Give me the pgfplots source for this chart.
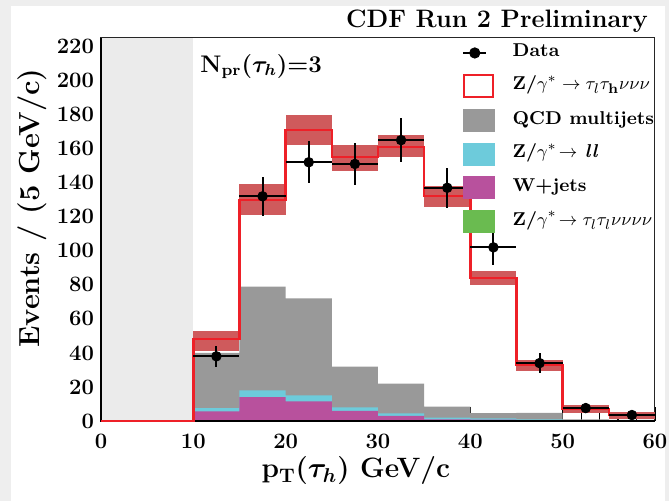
\documentclass[border=0pt]{standalone}
\usepackage{pgfplots}
\pgfplotsset{compat=1.18}
\usetikzlibrary{calc}
\usepackage{bm}
\definecolor{bggray}{HTML}{EEEEEE}
\definecolor{regiongray}{HTML}{EBEBEB}
\definecolor{qcd}{HTML}{999999}
\definecolor{zll}{HTML}{6DCBDB}
\definecolor{wjets}{HTML}{B8519D}
\definecolor{ztt}{HTML}{6ABB50}
\definecolor{band}{HTML}{CF5A5C}
\definecolor{zred}{HTML}{EE2028}
\begin{document}
\begin{tikzpicture}
\fill[bggray] (-50.5pt,-40pt) rectangle (284pt,210.5pt);
\fill[white] (-45pt,-40pt) rectangle (282pt,207.5pt);
\useasboundingbox (-50.5pt,-40pt) rectangle (284pt,210.5pt);
\begin{axis}[
  name=ax, at={(0,0)}, anchor=south west,
  scale only axis, width=277pt, height=191.5pt,
  clip=false,
  xmin=0, xmax=60, ymin=0, ymax=225,
  xtick={0,10,...,60}, ytick={0,20,...,220},
  minor x tick num=4, minor y tick num=3,
  tick pos=left, tick align=inside,
  major tick length=7pt, minor tick length=4pt,
  every tick/.append style={black, line width=0.6pt},
  axis line style={line width=0.5pt, black!85},
  /pgf/number format/assume math mode=true,
  xticklabel={\textbf{\pgfmathprintnumber[assume math mode=true]{\tick}}},
  yticklabel={\textbf{\pgfmathprintnumber[assume math mode=true]{\tick}}},
  ticklabel style={font=\fontsize{11}{13}\selectfont\bfseries},
  xticklabel style={yshift=-3pt},
  legend cell align=left,
  legend style={at={(rel axis cs:0.6516,0.987)}, anchor=north west,
    draw=none, fill=none, inner sep=0pt, outer sep=0pt,
    column sep=9pt, row sep=5.5pt,
    nodes={inner sep=0pt, text height=7pt, text depth=3pt},
    font=\fontsize{9.3}{11}\selectfont\bfseries},
]
% legend
\addlegendimage{legend image code/.code={\draw[black, line width=1.3pt] (0pt,0pt) -- (11.5pt,0pt); \fill[black] (5.75pt,0pt) circle (2.6pt);}}
\addlegendentry{Data}
\addlegendimage{legend image code/.code={\draw[zred, fill=white, line width=0.9pt] (0.45pt,-5.5pt) rectangle (15pt,5.5pt);}}
\addlegendentry{Z/$\gamma^{*}\rightarrow\tau_{l}\tau_{\mathbf{h}}\nu\nu\nu$}
\addlegendimage{legend image code/.code={\fill[qcd] (0pt,-5.5pt) rectangle (15.5pt,5.5pt);}}
\addlegendentry{QCD multijets}
\addlegendimage{legend image code/.code={\fill[zll] (0pt,-5.5pt) rectangle (15.5pt,5.5pt);}}
\addlegendentry{Z/$\gamma^{*}\!\rightarrow$ \textit{ll}}
\addlegendimage{legend image code/.code={\fill[wjets] (0pt,-5.5pt) rectangle (15.5pt,5.5pt);}}
\addlegendentry{W+jets}
\addlegendimage{legend image code/.code={\fill[ztt] (0pt,-5.5pt) rectangle (15.5pt,5.5pt);}}
\addlegendentry{Z/$\gamma^{*}\!\rightarrow\tau_{l}\tau_{l}\nu\nu\nu\nu$}

% excluded region
\addplot[forget plot, fill=regiongray, draw=none] coordinates {(0,0) (0,225) (10,225) (10,0)};

% stacked backgrounds (cumulative tops)
\addplot[forget plot, const plot, fill=qcd, draw=none] coordinates {
(10,40) (15,79) (20,72) (25,32) (30,22) (35,8.5) (40,4.6) (45,4.7) (50,1.0) (55,0.6) (60,0.6)} \closedcycle;
\addplot[forget plot, const plot, fill=zll, draw=none] coordinates {
(10,7.6) (15,18) (20,15) (25,8) (30,4.5) (35,2) (40,1.5) (45,1) (50,0.5) (55,0.3) (60,0.3)} \closedcycle;
\addplot[forget plot, const plot, fill=wjets, draw=none] coordinates {
(10,5.7) (15,14) (20,11.5) (25,6) (30,3) (35,1) (40,0.8) (45,0.5) (50,0.3) (55,0.2) (60,0.2)} \closedcycle;
\addplot[forget plot, const plot, fill=ztt, draw=none] coordinates {
(10,0.3) (15,0.4) (20,0.4) (25,0.3) (30,0.2) (35,0.1) (40,0.1) (45,0.1) (50,0.05) (55,0.05) (60,0.05)} \closedcycle;

% systematic band, one box per bin
\addplot[forget plot, fill=band, draw=none] coordinates {(10,41) (10,53) (15,53) (15,41)};
\addplot[forget plot, fill=band, draw=none] coordinates {(15,121) (15,139) (20,139) (20,121)};
\addplot[forget plot, fill=band, draw=none] coordinates {(20,162) (20,180) (25,180) (25,162)};
\addplot[forget plot, fill=band, draw=none] coordinates {(25,147) (25,162) (30,162) (30,147)};
\addplot[forget plot, fill=band, draw=none] coordinates {(30,155) (30,168) (35,168) (35,155)};
\addplot[forget plot, fill=band, draw=none] coordinates {(35,126) (35,138) (40,138) (40,126)};
\addplot[forget plot, fill=band, draw=none] coordinates {(40,80) (40,88) (45,88) (45,80)};
\addplot[forget plot, fill=band, draw=none] coordinates {(45,29.5) (45,36) (50,36) (50,29.5)};
\addplot[forget plot, fill=band, draw=none] coordinates {(50,4.7) (50,9.4) (55,9.4) (55,4.7)};
\addplot[forget plot, fill=band, draw=none] coordinates {(55,1.4) (55,5.3) (60,5.3) (60,1.4)};

% thick left/bottom axis lines
\draw[black, line width=1.1pt] (rel axis cs:0,1) -- (rel axis cs:0,0) -- (rel axis cs:1,0);

% total prediction
\addplot[forget plot, const plot, zred, line width=1.2pt] coordinates {
(0,0) (10,48) (15,130) (20,171) (25,155) (30,161) (35,132) (40,84) (45,33) (50,7) (55,3.5) (60,3.5)};

% data
\addplot[forget plot, only marks, mark=*, mark size=2.4pt, black,
  error bars/.cd, x dir=both, x explicit, y dir=both, y explicit,
  error bar style={line width=1pt, black}, error mark=none]
coordinates {
(12.5,38) +- (2.5,6.2)
(17.5,132) +- (2.5,11.5)
(22.5,152) +- (2.5,12.3)
(27.5,151) +- (2.5,12.3)
(32.5,165) +- (2.5,12.8)
(37.5,137) +- (2.5,11.7)
(42.5,102) +- (2.5,10.1)
(47.5,34) +- (2.5,5.8)
(52.5,7.6) +- (2.5,2.8)
(57.5,3.5) +- (2.5,1.9)
};

\node[anchor=base west, font=\fontsize{12}{14}\selectfont\bfseries] at (axis cs:10,205) {N\textsubscript{pr}($\bm{\tau}_{\bm{h}}$)=3};
\end{axis}
\node[anchor=base east, font=\fontsize{12.6}{15}\selectfont\bfseries] at ($(ax.north east)+(0,5pt)$) {CDF Run 2 Preliminary};
\node[anchor=base, font=\fontsize{14}{16}\selectfont\bfseries] at ($(ax.south west)!0.46!(ax.south east)+(0,-28.5pt)$) {p\textsubscript{T}($\bm{\tau}_{\bm{h}}$) GeV/c};
\node[rotate=90, anchor=center, font=\fontsize{14.5}{16}\selectfont\bfseries] at ($(ax.south west)!0.556!(ax.north west)+(-34.5pt,0)$) {Events / (5 GeV/c)};
\end{tikzpicture}
\end{document}
